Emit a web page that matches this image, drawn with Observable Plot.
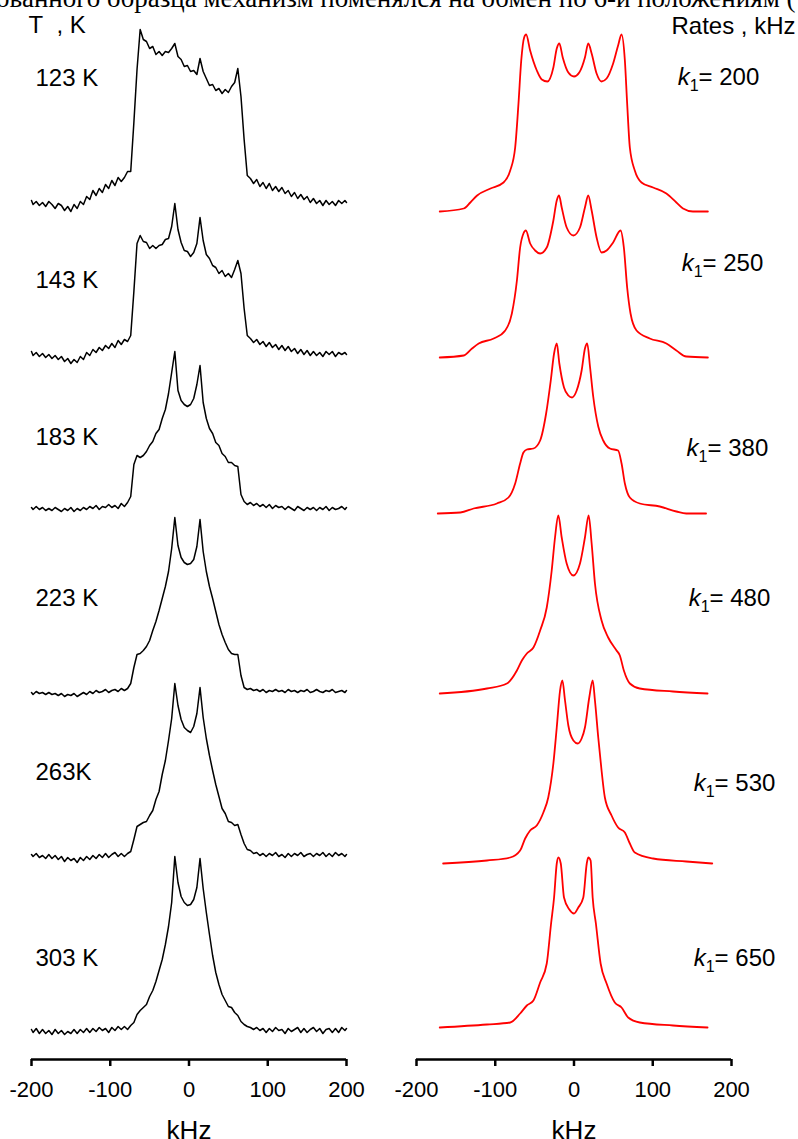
<!DOCTYPE html>
<html><head><meta charset="utf-8">
<script src="https://cdn.jsdelivr.net/npm/d3@7"></script>
<script src="https://cdn.jsdelivr.net/npm/@observablehq/plot@0.6"></script>
<style>
html,body{margin:0;padding:0;background:#fff;}
#wrap{position:relative;width:798px;height:1139px;overflow:hidden;background:#fff;}
#chart{position:absolute;left:0;top:0;}
#title{position:absolute;left:-4px;top:-15px;font-family:"Liberation Serif","Times New Roman",serif;font-size:27px;line-height:1;white-space:nowrap;color:#000;}
</style></head><body>
<div id="wrap"><div id="chart"></div><div id="title">ованного образца механизм поменялся на обмен по 6-и положениям (</div></div>
<script>
// ---------- data ----------
const panels = ["exp", "sim"];
const xTicks = [-200, -100, 0, 100, 200];
const axisTitle = "kHz";

// experimental spectra: frequency grid (kHz) and intensities above each trace's baseline
const expFreq = [
  -200, -198, -194, -190, -186, -182, -178, -174, -170, -166,
  -162, -158, -154, -150, -146, -142, -138, -134, -130, -126,
  -122, -118, -114, -110, -106, -102, -98, -94, -90, -86,
  -82, -78, -74, -70, -66, -62, -58, -54, -50, -46,
  -42, -38, -34, -30, -26, -22, -18, -14, -10, -6,
  -2, 2, 6, 10, 14, 18, 22, 26, 30, 34,
  38, 42, 46, 50, 54, 58, 62, 66, 70, 74,
  78, 82, 86, 90, 94, 98, 102, 106, 110, 114,
  118, 122, 126, 130, 134, 138, 142, 146, 150, 154,
  158, 162, 166, 170, 174, 178, 182, 186, 190, 194,
  198, 200];
const expNames = ["123 K", "143 K", "183 K", "223 K", "263K", "303 K"];
const exp123 = [
  2, -2, 1, -3, 0, -4, 1, -2, -6, -1,
  -3, -8, -4, -9, -2, -6, 1, -2, 6, 3,
  12, 7, 14, 10, 18, 14, 22, 17, 25, 21,
  25, 31, 31, 80, 133, 173, 163, 161, 154, 156,
  148, 151, 147, 151, 150, 154, 159, 146, 143, 136,
  137, 131, 132, 128, 144, 131, 124, 117, 118, 112,
  114, 109, 113, 110, 116, 120, 134, 106, 63, 27,
  24, 19, 23, 16, 20, 14, 19, 12, 16, 11,
  15, 9, 12, 6, 10, 4, 8, 3, 6, 0,
  4, -1, 2, -3, 2, -2, 1, -3, 2, -1,
  2, 0];
const exp143 = [
  2, -2, 1, -3, 0, -4, -1, -5, -2, -6,
  -3, -8, -5, -10, -6, -9, -3, -6, 1, -2,
  4, 1, 6, 3, 8, 5, 10, 6, 13, 9,
  14, 12, 18, 62, 110, 118, 112, 111, 105, 108,
  105, 108, 109, 114, 115, 127, 150, 124, 111, 103,
  102, 97, 101, 110, 136, 113, 99, 95, 88, 86,
  80, 83, 77, 80, 76, 84, 93, 80, 45, 18,
  15, 11, 14, 9, 12, 7, 11, 6, 9, 4,
  8, 3, 7, 2, 5, 0, 4, -1, 3, -2,
  2, -2, 1, -3, 2, -1, 2, -3, 1, -1,
  1, -1];
const exp183 = [
  1, -1, 2, -1, 1, -2, 0, -2, 1, -1,
  -3, 0, -2, 1, -3, 0, -2, 1, -1, 2,
  0, 3, -1, 2, 1, 4, 1, 3, 0, 5,
  2, 6, 12, 44, 53, 51, 53, 57, 63, 67,
  75, 79, 90, 99, 115, 136, 157, 118, 108, 104,
  102, 104, 110, 124, 143, 106, 90, 80, 75, 66,
  63, 55, 52, 46, 46, 43, 42, 14, 7, 4,
  6, 3, 5, 2, 4, 1, 4, 0, 3, 1,
  2, -1, 2, 0, -2, 2, 0, -2, 1, -1,
  1, -2, 1, -1, 2, -2, 1, -1, 0, 2,
  -1, 1];
const exp223 = [
  -1, -3, 0, -2, -1, -3, -1, -3, -2, -4,
  -2, -5, -3, -4, -2, -5, -3, -1, -3, 0,
  -2, 1, -1, 0, 2, -1, 1, 2, 0, 3,
  1, 3, 8, 24, 37, 38, 41, 45, 51, 61,
  70, 81, 93, 105, 120, 143, 174, 146, 134, 129,
  127, 128, 132, 145, 172, 140, 120, 105, 93, 80,
  67, 57, 49, 42, 38, 37, 37, 16, 4, 2,
  3, 1, 2, 0, 2, -1, 1, 0, 2, 0,
  1, -1, 2, 0, 1, -1, 1, 0, 2, -1,
  0, 2, 0, -1, 1, 0, 2, -1, 0, 1,
  -1, 1];
const exp263 = [
  1, -1, 2, -2, 0, -3, 1, -3, 0, -4,
  -1, -6, -2, -5, -3, -7, -2, -5, -1, -4,
  0, -3, 1, -2, 2, -2, 1, 3, -1, 2,
  -1, 2, 4, 16, 29, 31, 33, 34, 40, 45,
  56, 64, 81, 95, 115, 137, 172, 150, 136, 128,
  125, 123, 129, 142, 168, 138, 117, 100, 85, 71,
  59, 47, 42, 34, 33, 30, 31, 21, 12, 6,
  5, 2, 3, 0, 2, -1, 2, 0, 3, -1,
  1, -2, 2, -1, 2, 0, 3, -1, 1, 2,
  -1, 2, 0, 3, -1, 2, -1, 3, 0, 2,
  -1, 1];
const exp303 = [
  1, -2, 2, -3, 1, -3, 0, -4, 1, -3,
  0, -4, -1, -3, 1, -3, 1, -2, 2, -2,
  2, -1, 3, 0, 2, -2, 3, 0, 4, 1,
  4, 1, 5, 8, 16, 20, 23, 26, 34, 40,
  49, 60, 71, 86, 104, 128, 174, 148, 134, 128,
  125, 126, 131, 143, 172, 142, 118, 96, 75, 58,
  46, 36, 30, 24, 23, 18, 15, 9, 6, 4,
  3, 1, 3, 0, 2, -2, 2, -1, 3, 0,
  1, -3, 2, -1, 1, 3, -2, 2, -2, 1,
  3, -1, 2, -3, 1, 2, -2, 2, -2, 3,
  0, 2];

// simulated spectra (rates k1, kHz)
const simRates = [200, 250, 380, 480, 530, 650];
const sim200F = [-170.5, -140, -131.6, -123, -106, -89.5, -81, -74.7, -70.5, -67, -63.3, -60.8, -55.7, -47.2, -40.9, -33.8, -26.2, -21.9, -18.6, -14.3, -7.2, 0, 6.7, 13.9, 18.1, 22.4, 28.7, 35, 41.4, 49.7, 56, 60.4, 64.6, 67.5, 70.9, 77.2, 85.7, 100.4, 117.3, 130, 138.4, 151, 170];
const sim200V = [0, 3, 9, 16, 23, 29, 41, 64, 108, 151, 174, 177, 161, 141, 132, 130, 144, 163, 168, 154, 139, 135, 139, 154, 168, 158, 138, 130, 133, 148, 166, 177, 151, 108, 64, 41, 29, 24, 18, 9, 3, 0, 0];
const sim250F = [-170.5, -140, -129.5, -121, -102, -87.3, -78.9, -72.5, -68.4, -64.2, -61.1, -55.7, -49.4, -43, -34.6, -26.2, -21.9, -19, -15.6, -9.3, -0.8, 7.6, 13.9, 18.1, 22.4, 28.7, 35, 41.4, 49.7, 59.1, 63.3, 67.5, 71.8, 79.4, 96.2, 117.3, 130, 142.6, 170];
const sim250V = [0, 2, 9, 14, 19, 27, 44, 77, 110, 124, 127, 114, 107, 104, 110, 137, 157, 162, 150, 130, 122, 130, 150, 162, 147, 120, 105, 107, 115, 127, 110, 70, 44, 27, 19, 14, 7, 1, 0];
const sim380F = [-173, -144.3, -127.5, -97.9, -83.2, -74.7, -68.4, -64.2, -59.9, -51.5, -43, -35.4, -29.5, -25.3, -21.9, -18.6, -12.7, -7.2, -2.5, 3.4, 9.7, 13.9, 16.8, 20.3, 24.4, 30.8, 37.1, 45.6, 56, 60.4, 64.6, 70.9, 83.5, 108.9, 130, 142.6, 167.7];
const sim380V = [0, 1, 5, 10, 16, 30, 50, 61, 64, 65, 73, 100, 133, 160, 170, 150, 126, 118, 116, 123, 143, 165, 170, 147, 117, 87, 73, 65, 63, 50, 30, 16, 10, 7, 2, 0, 0];
const sim480F = [-170.5, -110.5, -85.2, -72.5, -66.2, -59.9, -51.5, -43, -34.6, -28.3, -24.1, -19.9, -15.6, -9.3, -0.8, 7.6, 13.9, 18.6, 22.4, 26.6, 35, 43.4, 54, 58.2, 63.3, 70.9, 83.5, 125.7, 169.6];
const sim480V = [0, 5, 10, 23, 33, 40, 46, 63, 86, 123, 156, 178, 156, 130, 118, 130, 156, 178, 150, 110, 73, 56, 43, 38, 23, 10, 5, 2, 0];
const sim530F = [-166.2, -110.5, -81, -68.4, -62, -55.7, -47.3, -38.9, -32.7, -26.2, -21.9, -17.7, -14.8, -11.4, -7.2, -0.8, 4.7, 9.7, 13.9, 19.4, 23.7, 26.6, 30.8, 35, 39.2, 47.7, 56, 64.6, 70.9, 77.2, 100.4, 142.6, 175.6];
const sim530V = [0, 3, 6, 13, 25, 33, 38, 51, 66, 100, 136, 173, 183, 163, 138, 123, 120, 125, 136, 166, 183, 163, 126, 93, 66, 48, 36, 31, 20, 11, 5, 2, 0];
const sim650F = [-170.5, -110.5, -81, -68.4, -59.9, -51.5, -43, -34.6, -29.1, -25.3, -21.9, -19.8, -16.8, -12.7, -5.9, 0, 5.5, 11.8, 16.2, 18.1, 21.1, 23.7, 27.8, 33.8, 41.4, 51.8, 60.4, 68.8, 83.5, 125.7, 169.6];
const sim650V = [0, 3, 5, 14, 22, 27, 45, 64, 104, 130, 164, 170, 164, 130, 118, 114, 120, 130, 164, 170, 167, 130, 104, 64, 44, 25, 20, 10, 5, 2, 0];

// ---------- layout (stacking offsets and label placement) ----------
const expOffsets = [857, 706, 551, 368, 204, 29];
const simOffsets = [848, 702, 546, 366, 196, 32];
const expLabelLift = [124, 73, 71, 93, 83, 72];
const simLabelLift = [134, 94, 65, 95, 80, 69];
const simLabelX = [131.6, 136.7, 143, 145.6, 152, 152];

// ---------- build tables ----------
const expValues = [exp123, exp143, exp183, exp223, exp263, exp303];
const simFs = [sim200F, sim250F, sim380F, sim480F, sim530F, sim650F];
const simVs = [sim200V, sim250V, sim380V, sim480V, sim530V, sim650V];

const expRows = expValues.flatMap((vals, i) => vals.map((v, j) => ({panel: "exp", series: expNames[i], f: expFreq[j], y: expOffsets[i] + v})));
const simRows = simFs.flatMap((fs, i) => fs.map((f, j) => ({panel: "sim", series: "k" + simRates[i], f, y: simOffsets[i] + simVs[i][j]})));
const expLabelRows = expNames.map((name, i) => ({panel: "exp", name, y: expOffsets[i] + expLabelLift[i]}));
const simLabelRows = simRates.map((r, i) => ({panel: "sim", name: "k1= " + r, x: simLabelX[i], y: simOffsets[i] + simLabelLift[i]}));
const titleRows = panels.map(p => ({panel: p, label: axisTitle}));

const font = "'Liberation Sans', Arial, Helvetica, sans-serif";

const chart = Plot.plot({
  width: 798, height: 1139,
  marginLeft: 31, marginRight: 67, marginTop: 20, marginBottom: 80,
  style: {background: "transparent", fontFamily: font, fontSize: "22px", color: "#000", overflow: "visible"},
  fx: {domain: panels, axis: null, paddingInner: 70 / 385, paddingOuter: 0},
  x: {domain: [-200, 200]},
  y: {domain: [0, 1039], axis: null},
  marks: [
    Plot.ruleY([0], {stroke: "#000", strokeWidth: 2.5}),
    Plot.axisX({ticks: xTicks, tickSize: 7, tickPadding: 15, stroke: "#000", strokeWidth: 2.5, tickFormat: d => String(d), fontSize: 22, label: null}),
    Plot.line(expRows, {x: "f", y: "y", z: "series", fx: "panel", stroke: "#000", strokeWidth: 1.5}),
    Plot.line(simRows, {x: "f", y: "y", z: "series", fx: "panel", stroke: "#ff0000", strokeWidth: 1.8, curve: "monotone-x"}),
    Plot.text(expLabelRows, {fx: "panel", y: "y", text: "name", frameAnchor: "left", textAnchor: "start", dx: 4, fontSize: 24, fill: "#000"}),
    Plot.text(simLabelRows, {fx: "panel", x: "x", y: "y", text: "name", textAnchor: "start", fontSize: 24, fill: "#000"}),
    Plot.text([{panel: "exp", t: "T\u00a0 , K"}], {fx: "panel", text: "t", frameAnchor: "top-left", textAnchor: "start", lineAnchor: "bottom", dx: -3, dy: 12, fontSize: 24, fill: "#000"}),
    Plot.text([{panel: "sim", t: "Rates , kHz"}], {fx: "panel", text: "t", frameAnchor: "top-right", textAnchor: "end", lineAnchor: "bottom", dx: 64, dy: 13, fontSize: 24, fill: "#000"}),
    Plot.text(titleRows, {fx: "panel", text: "label", frameAnchor: "bottom", lineAnchor: "top", dy: 61, fontSize: 26, fill: "#000"})
  ]
});

// subscript formatting for "k1" labels
const NS = "http://www.w3.org/2000/svg";
chart.querySelectorAll("text").forEach(t => {
  const s = t.textContent;
  if (s.startsWith("k1=")) {
    t.textContent = "";
    const a = document.createElementNS(NS, "tspan");
    a.setAttribute("font-style", "italic");
    a.textContent = "k";
    const b = document.createElementNS(NS, "tspan");
    b.setAttribute("font-size", "16");
    b.setAttribute("dy", "6");
    b.textContent = "1";
    const c = document.createElementNS(NS, "tspan");
    c.setAttribute("dy", "-6");
    c.textContent = s.slice(2);
    t.append(a, b, c);
  }
});

document.getElementById("chart").appendChild(chart);
</script>
</body></html>
